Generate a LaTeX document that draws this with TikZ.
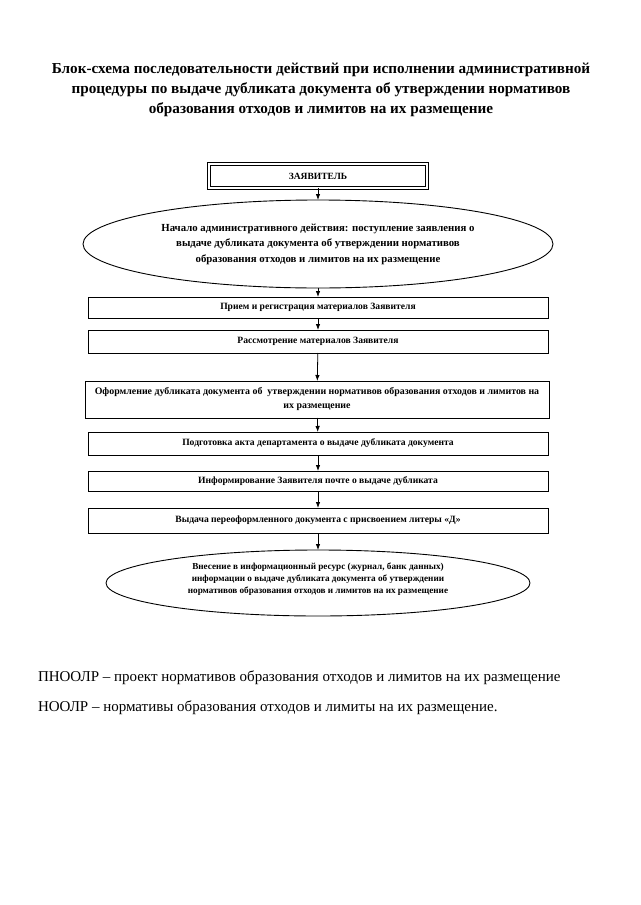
\documentclass[tikz,border=0pt]{standalone}
\usepackage{fontspec}
\setmainfont{Liberation Serif}
\usetikzlibrary{arrows.meta,shapes.geometric}
\begin{document}
\begin{tikzpicture}[x=1pt,y=-1pt,
  every node/.style={inner sep=0pt, outer sep=0pt},
  stepbox/.style={draw, line width=0.9pt, rectangle, minimum width=460pt, align=center,
     font=\fontsize{9.6}{13.5}\selectfont\bfseries},
  ovalbox/.style={draw, line width=0.9pt, ellipse, align=center},
  arr/.style={line width=0.8pt, -{Latex[length=6pt,width=4.5pt]}},
]
\useasboundingbox (0,0) rectangle (640,905);
\node[font=\fontsize{15.2}{20}\selectfont\bfseries, align=center] (title) at (321,90)
  {Блок-схема последовательности действий при исполнении административной\\
   процедуры по выдаче дубликата документа об утверждении нормативов\\
   образования отходов и лимитов на их размещение};
\node[draw, double, double distance=1.6pt, line width=0.8pt, minimum width=218pt, minimum height=24pt,
  font=\fontsize{9.5}{12}\selectfont\bfseries] (zv) at (318,176) {ЗАЯВИТЕЛЬ};
\node[ovalbox, minimum width=470pt, minimum height=88pt, font=\fontsize{10.8}{15.5}\selectfont\bfseries] (e1) at (318,244)
  {Начало административного действия: поступление заявления о\\
   выдаче дубликата документа об утверждении нормативов\\
   образования отходов и лимитов на их размещение};
\node[stepbox, minimum height=21pt] (b2) at (318,307.5) {Прием и регистрация материалов Заявителя};
\node[stepbox, minimum height=23pt] (b3) at (318,341.5) {Рассмотрение материалов Заявителя};
\node[stepbox, minimum height=37pt, minimum width=464pt, font=\fontsize{9.9}{14}\selectfont\bfseries] (b4) at (317,399.5)
  {Оформление дубликата документа об \ утверждении нормативов образования отходов и лимитов на\\
   их размещение};
\node[stepbox, minimum height=23pt] (b5) at (318,443.5) {Подготовка акта департамента о выдаче дубликата документа};
\node[stepbox, minimum height=20pt] (b6) at (318,481) {Информирование Заявителя почте о выдаче дубликата};
\node[stepbox, minimum height=25pt] (b7) at (318,520.5) {Выдача переоформленного документа с присвоением литеры «Д»};
\node[ovalbox, minimum width=424pt, minimum height=66pt, font=\fontsize{9.2}{12}\selectfont\bfseries] (e2) at (318,583)
  {Внесение в информационный ресурс (журнал, банк данных)\\
   информации о выдаче дубликата документа об утверждении\\
   нормативов образования отходов и лимитов на их размещение\\[-3pt]};
\draw[arr] (zv) -- (e1);
\draw[arr] (e1) -- (b2);
\draw[arr] (b2) -- (b3);
\draw[arr] (b3) -- (b4);
\draw[arr] (b4) -- (b5);
\draw[arr] (b5) -- (b6);
\draw[arr] (b6) -- (b7);
\draw[arr] (b7) -- (e2);
\node[anchor=west, font=\fontsize{15}{18}\selectfont] (n1) at (38,678)
  {ПНООЛР – проект нормативов образования отходов и лимитов на их размещение};
\node[anchor=west, font=\fontsize{15}{18}\selectfont] (n2) at (38,708)
  {НООЛР – нормативы образования отходов и лимиты на их размещение.};
\end{tikzpicture}
\end{document}
